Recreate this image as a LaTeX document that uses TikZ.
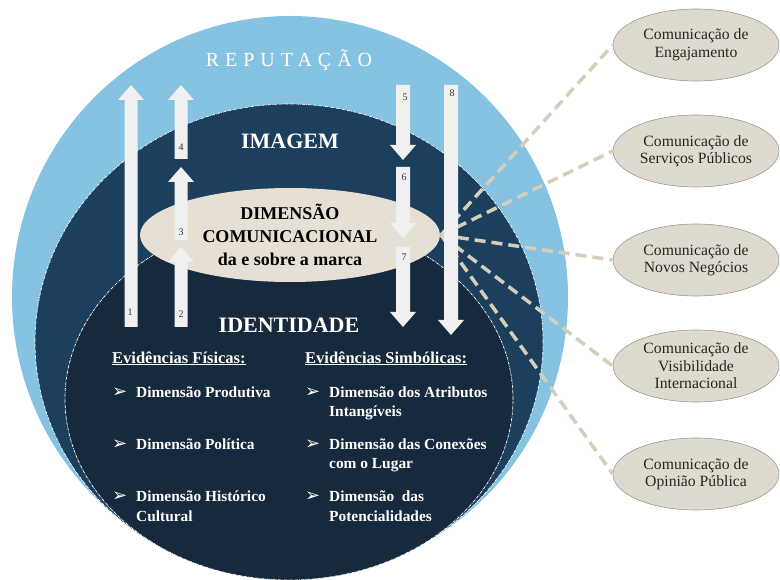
\documentclass[tikz,border=0pt]{standalone}
\usepackage{fontspec}
\setmainfont{Liberation Serif}
\newfontfamily\symfont{DejaVu Sans}
\newfontfamily\widefont[LetterSpace=30]{Liberation Serif}
\usetikzlibrary{shapes.geometric, positioning}

\definecolor{reputacao}{HTML}{86C3E3}
\definecolor{imagem}{HTML}{1D3F5E}
\definecolor{identidade}{HTML}{17293D}
\definecolor{seta}{HTML}{F0F0F0}
\definecolor{bege}{HTML}{E6E0D4}
\definecolor{begeclaro}{HTML}{DEDACD}
\definecolor{tracejado}{HTML}{D5CEBA}

% block arrows: x, base, tip
\newcommand{\setacima}[3]{%
  \fill[seta] (#1-6.5,#2) -- (#1-6.5,#3+15) -- (#1-13,#3+15) -- (#1,#3)
    -- (#1+13,#3+15) -- (#1+6.5,#3+15) -- (#1+6.5,#2) -- cycle;}
\newcommand{\setabaixo}[3]{%
  \fill[seta] (#1-7,#2) -- (#1-7,#3-15) -- (#1-13,#3-15) -- (#1,#3)
    -- (#1+13,#3-15) -- (#1+7,#3-15) -- (#1+7,#2) -- cycle;}
\newcommand{\mk}[1]{\makebox[24pt][l]{\symfont\fontsize{18}{18}\selectfont ➢}\parbox[t]{170pt}{\raggedright #1}}

\tikzset{
  contorno/.style={white, line width=0.7pt, densely dashdotted},
  numero/.style={font=\fontsize{10}{10}\selectfont, text=black!80, inner sep=0pt},
  titulo/.style={font=\bfseries\fontsize{22}{26}\selectfont, text=white, inner sep=0pt},
  centro/.style={ellipse, fill=bege, minimum width=300pt, minimum height=94pt,
    align=center, inner sep=0pt, font=\bfseries\fontsize{18}{23}\selectfont},
  comunic/.style={ellipse, fill=begeclaro, draw=black!40, line width=0.6pt,
    minimum width=166pt, minimum height=72pt, align=center, inner sep=0pt,
    text=black!85, font=\fontsize{15.7}{17.5}\selectfont},
  ligacao/.style={tracejado, line width=3.5pt, dash pattern=on 11pt off 6pt},
  cabecalho/.style={anchor=base west, text=white, inner sep=0pt,
    font=\bfseries\fontsize{16.5}{20}\selectfont},
  item/.style={anchor=base west, text=white, inner sep=0pt,
    font=\bfseries\fontsize{15.4}{20}\selectfont}
}

\begin{document}
\begin{tikzpicture}[x=1pt, y=-1pt]
    \useasboundingbox (0,0) rectangle (780,580);

    % circles
    \fill[reputacao] (290,297) ellipse [x radius=278pt, y radius=281pt];
    \fill[imagem] (289,342) ellipse [x radius=254pt, y radius=238pt];
    \draw[contorno] (289,342) ellipse [x radius=254pt, y radius=238pt];
    \fill[identidade] (289,399) ellipse [x radius=224pt, y radius=181pt];
    \draw[contorno] (289,399) ellipse [x radius=224pt, y radius=181pt];

    \node[font=\widefont\fontsize{20}{24}\selectfont, text=white, inner sep=0pt] (rep) at (289,60) {REPUTAÇÃO};
    \node[titulo] (img) at (290,141) {IMAGEM};
    \node[titulo] (ident) at (289,325) {IDENTIDADE};

    % side ellipses
    \node[comunic] (engaj) at (696,45) {Comunicação de\\Engajamento};
    \node[comunic] (serv) at (696,151) {Comunicação de\\Serviços Públicos};
    \node[comunic] (neg) at (696,260) {Comunicação de\\Novos Negócios};
    \node[comunic] (vis) at (696,366) {Comunicação de\\Visibilidade\\Internacional};
    \node[comunic] (opin) at (696,474) {Comunicação de\\Opinião Pública};

    \coordinate (ponta) at (441,235);
    \draw[ligacao] (ponta) -- (engaj.west);
    \draw[ligacao] (ponta) -- (serv.west);
    \draw[ligacao] (ponta) -- (neg.west);
    \draw[ligacao] (ponta) -- (vis.west);
    \draw[ligacao] (ponta) -- (opin.west);

    \node[centro] (dim) at (290,235) {DIMENSÃO\\COMUNICACIONAL\\da e sobre a marca};

    % arrows
    \setacima{131}{327}{85}
    \setacima{181}{327}{247}
    \setacima{181}{240}{167}
    \setacima{181}{159}{85}
    \setabaixo{403}{85}{160}
    \setabaixo{403}{167}{238}
    \setabaixo{403}{247}{327}
    \setabaixo{451}{85}{335}
    \node[numero] (n1) at (130,312) {1};
    \node[numero] (n2) at (181,314) {2};
    \node[numero] (n3) at (181,232) {3};
    \node[numero] (n4) at (181,147) {4};
    \node[numero] (n5) at (405,97) {5};
    \node[numero] (n6) at (404,177) {6};
    \node[numero] (n7) at (404,257) {7};
    \node[numero] (n8) at (452,93) {8};

    % evidences
    \node[cabecalho] (fis) at (112,363) {\underline{Evidências Físicas:}};
    \node[cabecalho] (simb) at (305,363) {\underline{Evidências Simbólicas:}};
    \node[item] (f1) at (112,397) {\mk{Dimensão Produtiva}};
    \node[item] (f2) at (112,449) {\mk{Dimensão Política}};
    \node[item] (f3) at (112,501) {\mk{Dimensão Histórico\\Cultural}};
    \node[item] (s1) at (305,397) {\mk{Dimensão dos Atributos\\Intangíveis}};
    \node[item] (s2) at (305,449) {\mk{Dimensão das Conexões\\com o Lugar}};
    \node[item] (s3) at (305,501) {\mk{Dimensão\ \ das\\Potencialidades}};
\end{tikzpicture}
\end{document}
